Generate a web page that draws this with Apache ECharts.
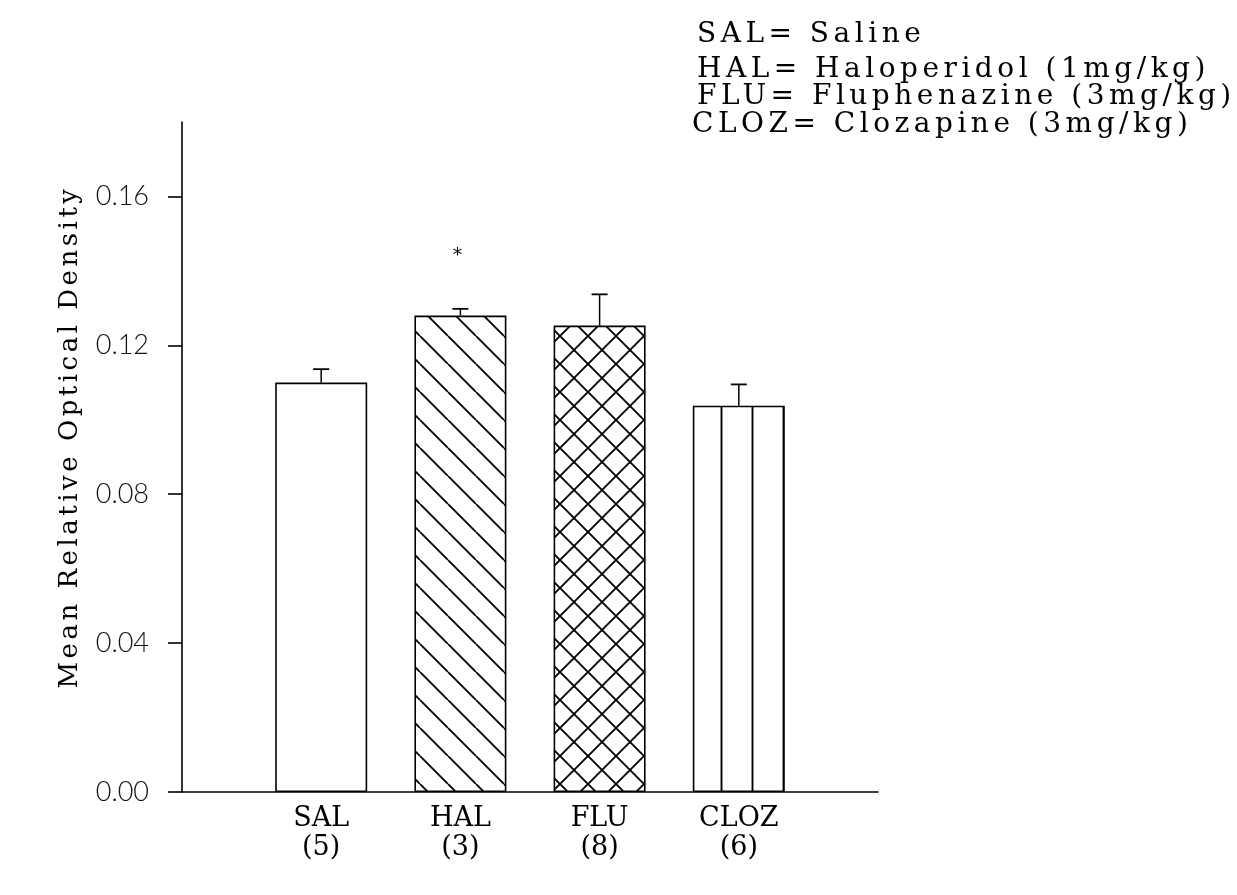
<!DOCTYPE html>
<html>
<head>
<meta charset="utf-8">
<title>Mean Relative Optical Density</title>
<script src="https://cdn.jsdelivr.net/npm/echarts@6/dist/echarts.min.js"></script>
<style>
  html, body { margin: 0; padding: 0; background: #fff; }
  #chart { width: 1237px; height: 895px; }
</style>
</head>
<body>
<div id="chart"></div>
<script>
// first and last slots stay empty, the bars sit on slots 1..4
const groups = ['', 'SAL', 'HAL', 'FLU', 'CLOZ', ''];
const counts = ['', '5', '3', '8', '6', ''];
const means = ['-', 0.110, 0.128, 0.1253, 0.1038, '-'];
const sems = [null, 0.0036, 0.0018, 0.0084, 0.0057, null];
const marks = ['', '', '*', '', '', ''];
const yTicks = [0, 0.04, 0.08, 0.12, 0.16];
const legendLines = [
  'SAL= Saline',
  'HAL= Haloperidol (1mg/kg)',
  'FLU= Fluphenazine (3mg/kg)',
  'CLOZ= Clozapine (3mg/kg)'
];

const SERIF = '"DejaVu Serif", "Liberation Serif", serif';

// the original is typeset with wide letter spacing; echarts has no option for
// it, so give the canvas a letterSpacing per font size whenever a font is set
const letterSpacing = { 28: '4.5px', 26: '3.5px' };
const fontProp = Object.getOwnPropertyDescriptor(CanvasRenderingContext2D.prototype, 'font');
if (fontProp && 'letterSpacing' in CanvasRenderingContext2D.prototype) {
  Object.defineProperty(CanvasRenderingContext2D.prototype, 'font', {
    get() { return fontProp.get.call(this); },
    set(v) {
      fontProp.set.call(this, v);
      const m = /(\d+)px/.exec(v);
      this.letterSpacing = (m && letterSpacing[m[1]]) || '0px';
    }
  });
}

// small canvas tiles used as bar fills
function makeTile(kind) {
  const c = document.createElement('canvas');
  const T = kind === 'vline' ? 31 : 28;
  c.width = T;
  c.height = kind === 'vline' ? 4 : T;
  const ctx = c.getContext('2d');
  ctx.fillStyle = '#fff';
  ctx.fillRect(0, 0, c.width, c.height);
  ctx.strokeStyle = '#000';
  ctx.lineWidth = 1.9;
  ctx.beginPath();
  if (kind === 'vline') {
    ctx.moveTo(8.5, 0);
    ctx.lineTo(8.5, c.height);
  } else {
    for (let k = -1; k <= 1; k++) {
      ctx.moveTo(k * T, 0);
      ctx.lineTo(k * T + T, T);
      if (kind === 'cross') {
        ctx.moveTo(k * T, T);
        ctx.lineTo(k * T + T, 0);
      }
    }
  }
  ctx.stroke();
  return { image: c, repeat: 'repeat' };
}

const fills = {
  SAL: '#fff',
  HAL: makeTile('hatch'),
  FLU: makeTile('cross'),
  CLOZ: makeTile('vline')
};

const barData = means.map((v, i) => ({
  value: v,
  itemStyle: { color: fills[groups[i]] || '#fff' }
}));

const errData = [];
means.forEach((v, i) => {
  if (sems[i] != null) errData.push([i, v, v + sems[i], marks[i]]);
});

const chart = echarts.init(document.getElementById('chart'), null, { renderer: 'canvas' });

const option = {
  backgroundColor: '#fff',
  animation: false,
  grid: { left: 182, right: 359, top: 122, bottom: 103 },
  xAxis: {
    type: 'category',
    data: groups,
    boundaryGap: false,
    axisLine: { lineStyle: { color: '#000', width: 1.6 } },
    axisTick: { show: false },
    axisLabel: {
      interval: 0,
      margin: 12,
      color: '#000',
      fontFamily: SERIF,
      fontSize: 27,
      lineHeight: 29,
      formatter: (val, idx) => (val ? val + '\n(' + counts[idx] + ')' : '')
    },
    splitLine: { show: false }
  },
  yAxis: {
    type: 'value',
    min: 0,
    max: 0.18,
    name: 'Mean Relative Optical Density',
    nameLocation: 'middle',
    nameGap: 72,
    nameTextStyle: {
      color: '#000',
      fontFamily: SERIF,
      fontSize: 26,
      padding: [0, 0, 0, 40]
    },
    axisLine: { show: true, lineStyle: { color: '#000', width: 1.6 } },
    axisTick: {
      show: true,
      length: 14,
      customValues: yTicks,
      lineStyle: { color: '#000', width: 1.6 }
    },
    axisLabel: {
      customValues: yTicks,
      margin: 33,
      color: '#111',
      fontFamily: 'Lato, "Liberation Sans", sans-serif',
      fontWeight: 300,
      fontSize: 27,
      formatter: v => v.toFixed(2)
    },
    splitLine: { show: false }
  },
  graphic: legendLines.map((t, i) => ({
    type: 'text',
    x: i === 3 ? 692 : 697,
    y: [35, 70, 97, 125][i],
    style: {
      text: t,
      fill: '#000',
      font: '28px ' + SERIF,
      align: 'left',
      verticalAlign: 'middle'
    }
  })),
  series: [
    {
      type: 'bar',
      data: barData,
      barWidth: 92,
      itemStyle: { borderColor: '#000', borderWidth: 1.6 },
      z: 2
    },
    {
      type: 'custom',
      data: errData,
      encode: { x: 0, y: [1, 2] },
      z: 3,
      renderItem: (params, api) => {
        const lo = api.coord([api.value(0), api.value(1)]);
        const hi = api.coord([api.value(0), api.value(2)]);
        const star = errData[params.dataIndex][3];
        const kids = [
          {
            type: 'line',
            shape: { x1: lo[0], y1: lo[1], x2: hi[0], y2: hi[1] },
            style: { stroke: '#000', lineWidth: 1.5 }
          },
          {
            type: 'line',
            shape: { x1: hi[0] - 8, y1: hi[1], x2: hi[0] + 8, y2: hi[1] },
            style: { stroke: '#000', lineWidth: 1.8 }
          }
        ];
        if (star) {
          kids.push({
            type: 'text',
            x: hi[0] - 3,
            y: hi[1] - 53,
            style: {
              text: star,
              fill: '#000',
              font: '18px ' + SERIF,
              align: 'center',
              verticalAlign: 'middle'
            }
          });
        }
        return { type: 'group', children: kids };
      }
    }
  ]
};

chart.setOption(option);
window.addEventListener('resize', () => chart.resize());
</script>
</body>
</html>
